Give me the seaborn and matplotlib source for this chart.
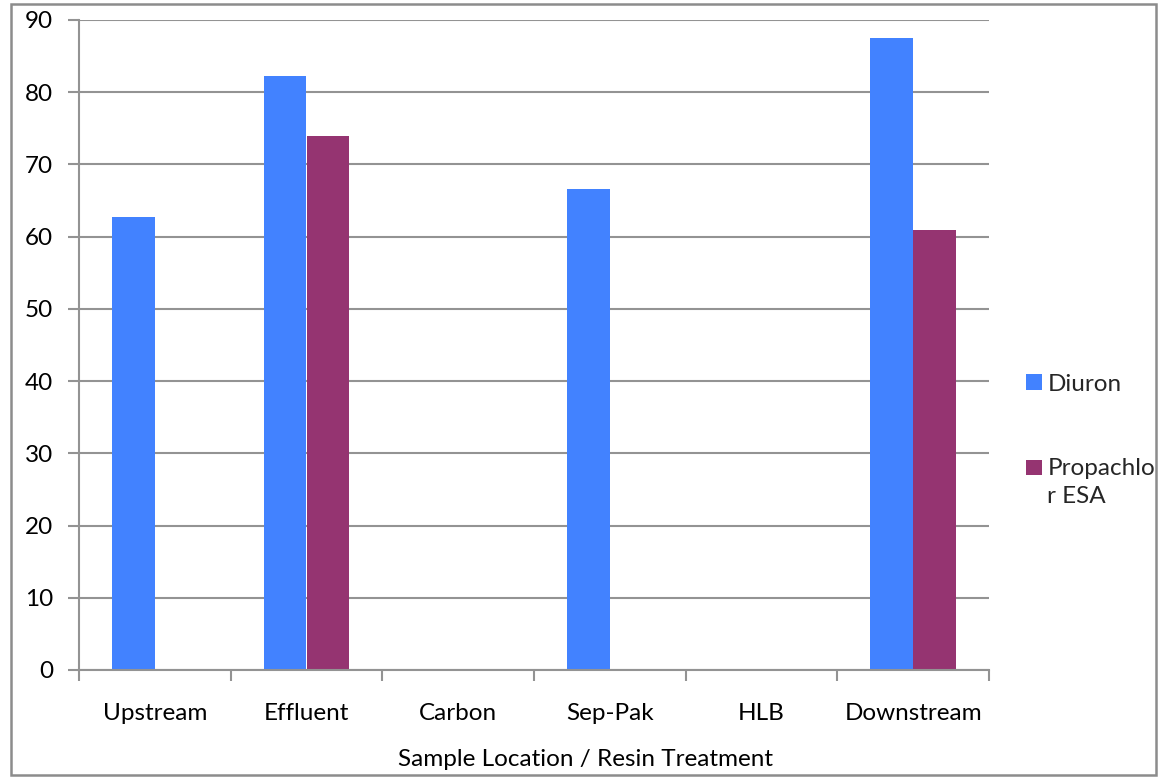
import matplotlib
matplotlib.use("Agg")
import matplotlib.pyplot as plt
from matplotlib.patches import Rectangle
from matplotlib.legend_handler import HandlerPatch
import seaborn as sns
import pandas as pd
import numpy as np

# Data
locations = ["Upstream", "Effluent", "Carbon", "Sep-Pak", "HLB", "Downstream"]
diuron = [62.7, 82.2, 0, 66.6, 0, 87.5]
propachlor_esa = [0, 73.9, 0, 0, 0, 60.9]
series_names = ["Diuron", "Propachlor ESA"]
series_colors = ["#4282FF", "#953471"]
y_ticks = [0, 10, 20, 30, 40, 50, 60, 70, 80, 90]
x_title = "Sample Location / Resin Treatment"

df = pd.DataFrame({
    "location": locations * 2,
    "series": [series_names[0]] * len(locations) + [series_names[1]] * len(locations),
    "value": diuron + propachlor_esa,
})

sns.set_theme(style="white")
plt.rcParams["font.family"] = ["Lato", "DejaVu Sans"]
FS = 17.5

W, H = 1158, 780
fig = plt.figure(figsize=(W / 100, H / 100), dpi=100)
ax = fig.add_axes([79 / W, 1 - 670 / H, (989 - 79) / W, (670 - 20) / H])

sns.barplot(data=df, x="location", y="value", hue="series", order=locations,
            hue_order=series_names, palette=series_colors, width=0.567,
            saturation=1, errorbar=None, ax=ax, legend=False, linewidth=0)

grid_c = "#939393"
ax.set_ylim(0, 90)
ax.set_yticks(y_ticks)
ax.yaxis.grid(True, color=grid_c, linewidth=1.5)
ax.set_axisbelow(True)
ax.set_xlim(-0.5, len(locations) - 0.5)

# Category boundaries carry tick marks; labels sit at category centres
ax.set_xticks(np.arange(len(locations) + 1) - 0.5)
ax.set_xticklabels([])
ax.set_xticks(np.arange(len(locations)), minor=True)
ax.set_xticklabels(locations, minor=True)
ax.tick_params(axis="x", which="major", length=8, width=1.5, color=grid_c, direction="out", bottom=True)
ax.tick_params(axis="x", which="minor", length=0, pad=24, labelsize=FS, labelcolor="black")
ax.tick_params(axis="y", length=8, width=1.5, color=grid_c, direction="out", left=True,
               pad=10.5, labelsize=FS, labelcolor="black")

for side in ["top", "right"]:
    ax.spines[side].set_visible(False)
for side in ["left", "bottom"]:
    ax.spines[side].set_color(grid_c)
    ax.spines[side].set_linewidth(1.5)

# Axis title centred across the whole chart area
ax.set_ylabel("")
ax.set_xlabel(x_title, fontsize=FS, color="black")
ax.xaxis.set_label_coords((586 - 79) / (989 - 79), -(760 - 670) / (670 - 20))
ax.xaxis.label.set_va("center")


def square_at(dy):
    """Legend key: a small square, raised by dy points to sit beside the first text line."""
    def make(legend, orig_handle, xdescent, ydescent, width, height, fontsize):
        s = 11
        return Rectangle((-xdescent + (width - s) / 2, -ydescent + (height - s) / 2 + dy), s, s)
    return make


handles = [Rectangle((0, 0), 1, 1, facecolor=c, edgecolor="none") for c in series_colors]
labels = ["Diuron", "Propachlo\nr ESA"]
handler_map = {handles[0]: HandlerPatch(patch_func=square_at(0)),
               handles[1]: HandlerPatch(patch_func=square_at(10.5))}
leg = fig.legend(handles, labels, loc="center left", bbox_to_anchor=(1014 / W, 1 - 440 / H),
                 frameon=False, fontsize=FS, handlelength=0.65, handletextpad=0.22,
                 labelspacing=2.6, borderpad=0, handler_map=handler_map)
for t in leg.get_texts():
    t.set_linespacing(1.4)

# Outer chart border
fig.patches.append(Rectangle((11 / W, 5 / H), (1156 - 11) / W, (776 - 5) / H,
                             transform=fig.transFigure, fill=False,
                             edgecolor="#8c8c8c", linewidth=1.8))

fig.savefig("out.png", dpi=100)
